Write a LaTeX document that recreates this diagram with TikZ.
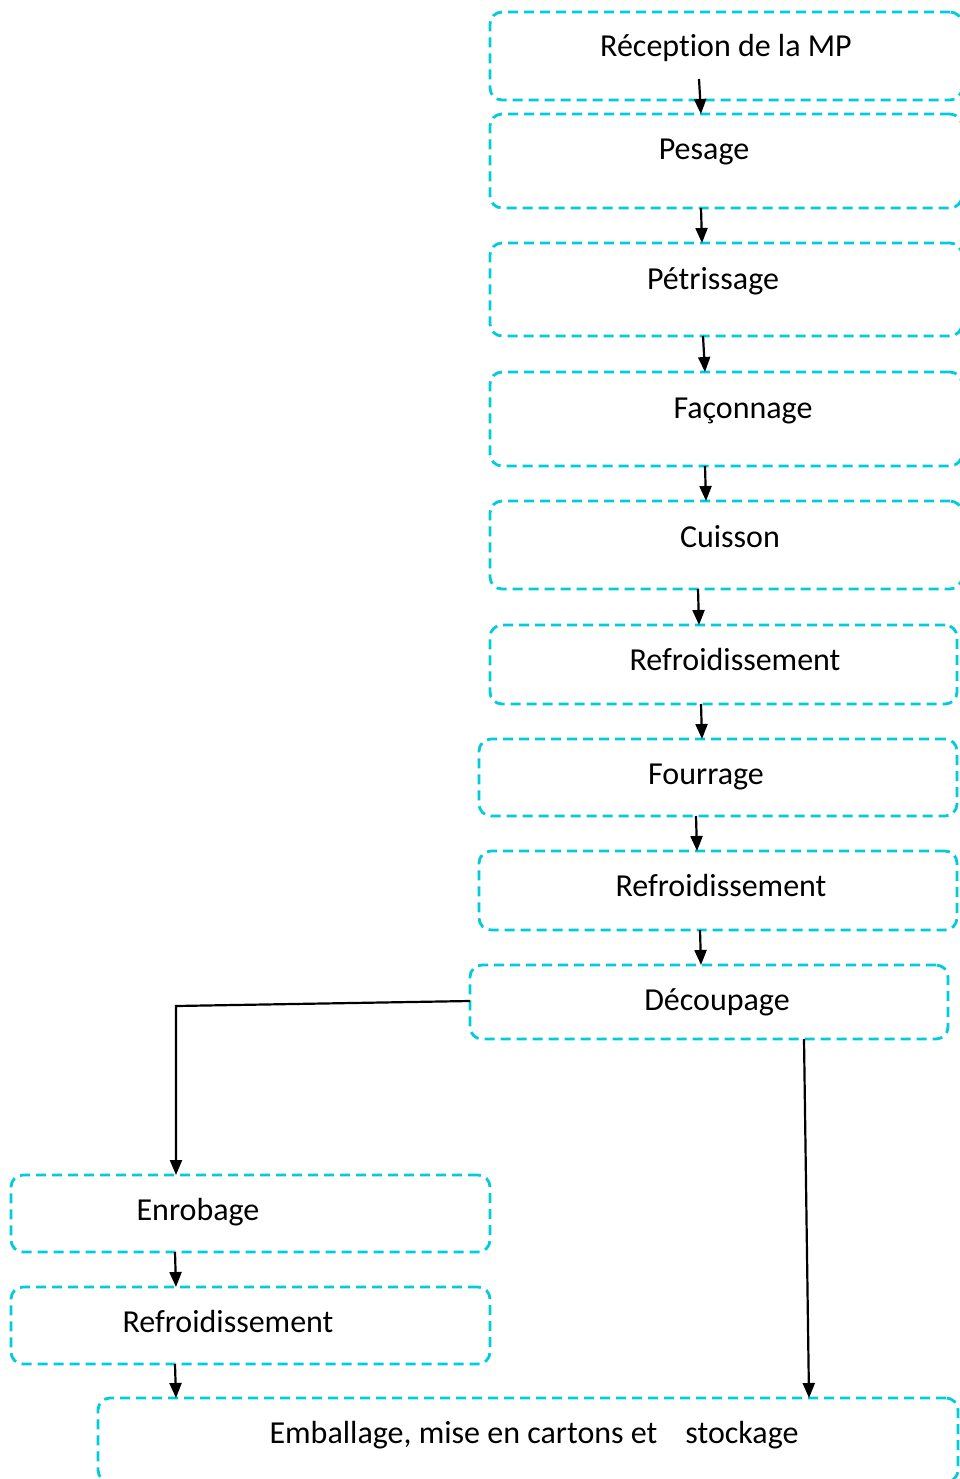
\documentclass[tikz,border=0pt]{standalone}
\usepackage{fontspec}
\setmainfont{Carlito}[Ligatures={NoCommon,NoContextual}]
\usetikzlibrary{arrows.meta, positioning}
\definecolor{stagecyan}{RGB}{0,204,219}
\tikzset{
	x=1pt, y=-1pt, % one unit is one pixel of the sheet, y runs downwards
	>={Triangle[length=15pt, width=12pt]}, % filled arrow heads
	stage/.style={draw=stagecyan, line width=2.8pt, dash pattern=on 10pt off 6pt, rounded corners=12pt, inner sep=0pt, outer sep=0pt}, % dashed step box
	lbl/.style={anchor=base, font=\fontsize{32}{38}\selectfont}, % text of a step
	flow/.style={->, line width=2.2pt}, % arrow between steps
}
\begin{document}
\begin{tikzpicture}
	\useasboundingbox (0,0) rectangle (960,1479);
			% boxes
			\node[stage, minimum width=472pt, minimum height=88pt] (b1) at (726,56) {};
			\node[stage, minimum width=472pt, minimum height=94pt] (b2) at (726,161) {};
			\node[stage, minimum width=472pt, minimum height=93pt] (b3) at (726,289.5) {};
			\node[stage, minimum width=472pt, minimum height=94pt] (b4) at (726,419) {};
			\node[stage, minimum width=472pt, minimum height=88pt] (b5) at (726,545) {};
			\node[stage, minimum width=467pt, minimum height=79pt] (b6) at (723.5,664.5) {};
			\node[stage, minimum width=478pt, minimum height=77pt] (b7) at (718,777.5) {};
			\node[stage, minimum width=478pt, minimum height=79pt] (b8) at (718,890.5) {};
			\node[stage, minimum width=478pt, minimum height=74pt] (b9) at (709,1002) {};
			\node[stage, minimum width=479pt, minimum height=77pt] (b10) at (250.5,1213.5) {};
			\node[stage, minimum width=479pt, minimum height=77pt] (b11) at (250.5,1325.5) {};
			\node[stage, minimum width=860pt, minimum height=84pt] (b12) at (528,1440) {};
			% texts
			\node[lbl] (t1) at (726,57) {Réception de la MP};
			\node[lbl] (t2) at (704,160) {Pesage};
			\node[lbl] (t3) at (713,289) {Pétrissage};
			\node[lbl] (t4) at (743,418) {Façonnage};
			\node[lbl] (t5) at (730,547) {Cuisson};
			\node[lbl] (t6) at (735,670) {Refroidissement};
			\node[lbl] (t7) at (706,784) {Fourrage};
			\node[lbl] (t8) at (721,896) {Refroidissement};
			\node[lbl] (t9) at (717,1010) {Découpage};
			\node[lbl] (t10) at (198,1220) {Enrobage};
			\node[lbl] (t11) at (228,1332) {Refroidissement};
			\node[lbl] (t12) at (534,1443) {Emballage, mise en cartons et\hspace{0.65em} stockage};
			% arrows
	\draw[flow] ([xshift=-27pt, yshift=21pt]b1.south) -- ([xshift=-25pt]b2.north);
	\draw[flow] ([xshift=-25pt]b2.south) -- ([xshift=-24pt]b3.north);
	\draw[flow] ([xshift=-23pt]b3.south) -- ([xshift=-21pt]b4.north);
	\draw[flow] ([xshift=-21pt]b4.south) -- ([xshift=-20pt]b5.north);
	\draw[flow] ([xshift=-28pt]b5.south) -- ([xshift=-24.5pt]b6.north);
	\draw[flow] ([xshift=-22.5pt]b6.south) -- ([xshift=-16pt]b7.north);
	\draw[flow] ([xshift=-22pt]b7.south) -- ([xshift=-21pt]b8.north);
	\draw[flow] ([xshift=-18pt]b8.south) -- ([xshift=-8pt]b9.north);
	\draw[flow] ([yshift=1pt]b9.west) -- (176,1006) -- ([xshift=-74.5pt]b10.north);
	\draw[flow] ([xshift=95pt]b9.south) -- ([xshift=281pt]b12.north);
	\draw[flow] ([xshift=-75.5pt]b10.south) -- ([xshift=-74.5pt]b11.north);
	\draw[flow] ([xshift=-75.5pt]b11.south) -- ([xshift=-352pt]b12.north);
\end{tikzpicture}
\end{document}
